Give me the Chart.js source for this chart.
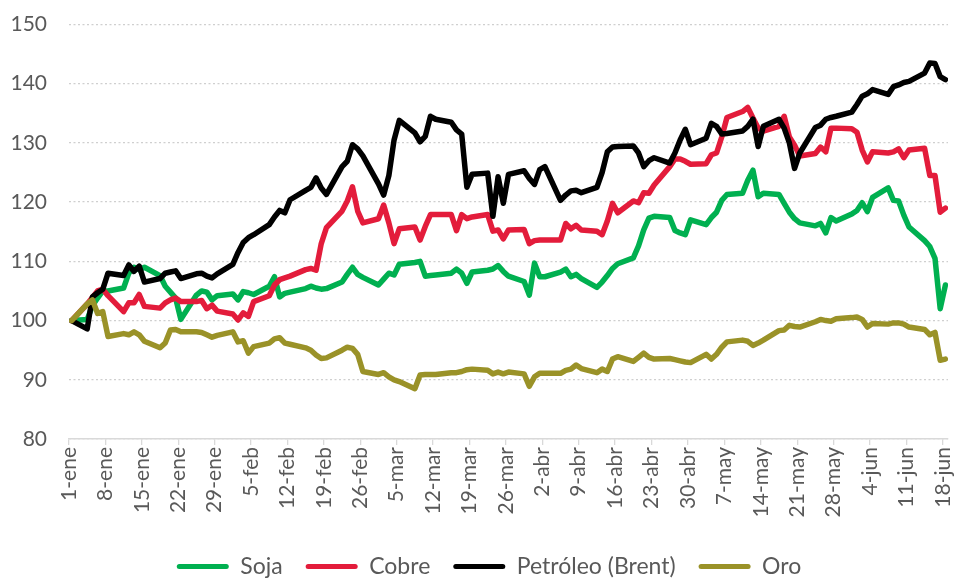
<!DOCTYPE html>
<html>
<head>
<meta charset="utf-8">
<script src="https://cdn.jsdelivr.net/npm/chart.js@4.4.1/dist/chart.umd.min.js"></script>
<style>
  html, body { margin: 0; padding: 0; background: #fff; overflow: hidden; }
  #caja { position: relative; width: 959px; height: 588px; }
</style>
</head>
<body>
<div id="caja"><canvas id="grafico"></canvas></div>
<script>
// dias desde el 1 de enero (dias habiles)
const dias = [
    0,
    3, 4, 5, 6, 7,
    10, 11, 12, 13, 14,
    17, 18, 19, 20, 21,
    24, 25, 26, 27, 28,
    31, 32, 33, 34, 35,
    38, 39, 40, 41, 42,
    45, 46, 47, 48, 49,
    52, 53, 54, 55, 56,
    59, 60, 61, 62, 63,
    66, 67, 68, 69, 70,
    73, 74, 75, 76, 77,
    80, 81, 82, 83, 84,
    87, 88, 89, 90, 91,
    94, 95, 96, 97, 98,
    101, 102, 103, 104, 105,
    108, 109, 110, 111, 112,
    115, 116, 117, 118, 119,
    122, 123, 124, 125, 126,
    129, 130, 131, 132, 133,
    136, 137, 138, 139, 140,
    143, 144, 145, 146, 147,
    150, 151, 152, 153, 154,
    157, 158, 159, 160, 161,
    164, 165, 166, 167, 168
];

const etiquetas = ['1-ene', '8-ene', '15-ene', '22-ene', '29-ene', '5-feb', '12-feb', '19-feb', '26-feb',
    '5-mar', '12-mar', '19-mar', '26-mar', '2-abr', '9-abr', '16-abr', '23-abr', '30-abr',
    '7-may', '14-may', '21-may', '28-may', '4-jun', '11-jun', '18-jun'];

const soja = [
    100,
    100.2, 102.5, 103.8, 105, 105,
    105.5, 108, 109, 108.6, 109,
    107.6, 105.8, 104.8, 103.8, 100.2,
    104.3, 105, 104.8, 103.5, 104.2,
    104.5, 103.5, 104.9, 104.7, 104.4,
    105.8, 107.4, 104, 104.6, 104.8,
    105.4, 105.8, 105.5, 105.3, 105.4,
    106.5, 107.8, 109, 107.8, 107.3,
    106, 107, 108, 107.7, 109.5,
    109.8, 110, 107.5, 107.6, 107.7,
    108, 108.7, 108, 106.3, 108.2,
    108.5, 108.7, 109.3, 108.3, 107.5,
    106.6, 104.3, 109.7, 107.4, 107.4,
    108.2, 108.7, 107.4, 107.8, 107.1,
    105.6, 106.5, 107.6, 108.8, 109.6,
    110.6, 112.6, 115.3, 117.3, 117.6,
    117.4, 115.2, 114.8, 114.5, 117,
    116.2, 117.4, 118.3, 120.3, 121.3,
    121.5, 123.7, 125.4, 120.9, 121.5,
    121.3, 119.8, 118.3, 117.2, 116.5,
    116, 116.4, 114.8, 117.4, 116.8,
    118, 118.6, 119.9, 118.4, 120.8,
    122.4, 120.3, 120.2, 117.8, 115.8,
    113.5, 112.5, 110.5, 102, 106
];

const cobre = [
    100,
    102.8, 103.9, 105, 105.3, 104.2,
    101.5, 103, 103, 104.4, 102.4,
    102.1, 103, 103.5, 103.8, 103.2,
    103.2, 103.4, 102, 102.6, 101.6,
    101.1, 100.1, 101.3, 100.7, 103.2,
    104.2, 106, 106.9, 107.2, 107.5,
    108.6, 108.8, 108.5, 113, 115.7,
    118.5, 120.2, 122.6, 118.5, 116.5,
    117.2, 119.5, 116.5, 113, 115.5,
    115.8, 113.6, 115.9, 117.9, 117.9,
    117.9, 115.2, 117.9, 117.2, 117.5,
    117.9, 115.1, 115.3, 113.8, 115.3,
    115.4, 113, 113.5, 113.6, 113.6,
    113.6, 116.4, 115.5, 116.1, 115.3,
    115.1, 114.5, 116.8, 119.8, 118.2,
    120.2, 119.9, 121.6, 121.5, 122.9,
    126, 127.3, 127.3, 126.9, 126.4,
    126.5, 128, 128.3, 131, 134.3,
    135.3, 136, 134.2, 132.5, 132,
    132.8, 134.5, 131, 129.6, 127.8,
    128.2, 129.3, 128.5, 132.5, 132.5,
    132.4, 131.8, 128.8, 126.8, 128.5,
    128.3, 128.5, 129, 127.5, 128.8,
    129.1, 124.5, 124.5, 118.3, 119
];

const petroleo = [
    100,
    98.6, 104, 104.7, 105.3, 108,
    107.6, 109.4, 108.3, 109.2, 106.5,
    107.1, 108, 108.2, 108.4, 107.1,
    107.9, 108, 107.5, 107.2, 107.9,
    109.5, 111.5, 113.2, 114, 114.5,
    116.2, 117.5, 118.6, 118.2, 120.4,
    122, 122.5, 124.1, 122.4, 121.3,
    126, 126.9, 129.7, 129, 127.8,
    123.1, 121.2, 124.5, 130.5, 133.8,
    131.7, 130.2, 131.1, 134.5, 134,
    133.5, 132.2, 131.5, 122.5, 124.7,
    124.9, 117.6, 124.3, 119.8, 124.7,
    125.3, 124, 123, 125.5, 126,
    120.3, 121.2, 121.9, 122, 121.6,
    122.5, 125, 128.5, 129.3, 129.4,
    129.5, 128.3, 126, 127, 127.5,
    126.6, 128.3, 130.5, 132.3, 129.7,
    130.8, 133.3, 132.8, 131.5, 131.6,
    132, 132.8, 134, 129.4, 132.8,
    134, 132.5, 130, 125.7, 128.3,
    132.6, 133, 134, 134.3, 134.5,
    135.2, 136.5, 137.9, 138.3, 139,
    138.2, 139.5, 139.8, 140.2, 140.4,
    141.8, 143.5, 143.4, 141.2, 140.7
];

const oro = [
    100,
    102.8, 103.5, 101.2, 101.5, 97.3,
    97.8, 97.6, 98.1, 97.6, 96.5,
    95.4, 96.2, 98.4, 98.5, 98.1,
    98.1, 98, 97.6, 97.2, 97.5,
    98.1, 96.4, 96.6, 94.5, 95.6,
    96.2, 96.9, 97.1, 96.2, 96,
    95.4, 95, 94.2, 93.6, 93.7,
    95, 95.5, 95.3, 94.3, 91.4,
    90.9, 91.2, 90.5, 90, 89.7,
    88.5, 90.8, 90.9, 90.9, 90.9,
    91.2, 91.2, 91.4, 91.7, 91.8,
    91.6, 91, 91.3, 91, 91.3,
    91, 88.9, 90.5, 91.1, 91.1,
    91.1, 91.6, 91.8, 92.5, 91.9,
    91.2, 91.8, 91.4, 93.5, 93.9,
    93.1, 93.8, 94.5, 93.8, 93.5,
    93.6, 93.4, 93.2, 93, 92.9,
    94.3, 93.5, 94.3, 95.5, 96.4,
    96.7, 96.5, 95.8, 96.2, 96.7,
    98.3, 98.4, 99.2, 99, 98.9,
    99.8, 100.2, 100, 99.9, 100.3,
    100.5, 100.6, 100.2, 98.9, 99.5,
    99.4, 99.6, 99.6, 99.4, 98.9,
    98.5, 97.6, 98, 93.3, 93.5
];

const series = [
    { nombre: 'Soja', valores: soja, color: '#00B050', orden: 4 },
    { nombre: 'Cobre', valores: cobre, color: '#E31C3B', orden: 3 },
    { nombre: 'Petróleo (Brent)', valores: petroleo, color: '#000000', orden: 2 },
    { nombre: 'Oro', valores: oro, color: '#9A9228', orden: 1 }
];

const gris = '#595959';

// corre la leyenda un poco a la derecha, como en el original
const moverLeyenda = {
    id: 'moverLeyenda',
    afterLayout(chart) {
        chart.legend.left += 15;
        chart.legend.right += 15;
    }
};

new Chart(document.getElementById('grafico'), {
    type: 'line',
    data: {
        datasets: series.map(s => ({
            label: s.nombre,
            data: dias.map((d, i) => ({ x: d, y: s.valores[i] })),
            borderColor: s.color,
            backgroundColor: s.color,
            borderWidth: 5.5,
            borderJoinStyle: 'round',
            borderCapStyle: 'round',
            pointRadius: 0,
            tension: 0,
            order: s.orden
        }))
    },
    options: {
        responsive: true,
        maintainAspectRatio: false,
        animation: false,
        layout: { padding: { top: 24.5, right: 11, left: 0, bottom: 0 } },
        scales: {
            x: {
                type: 'linear',
                min: -0.5,
                max: 168.5,
                afterBuildTicks: (scale) => {
                    scale.ticks = etiquetas.map((_, i) => ({ value: -0.5 + 7 * i }));
                },
                afterFit: (scale) => {
                    scale.height = 93;
                    scale.paddingLeft = 0;
                    scale.paddingRight = 0;
                },
                grid: {
                    drawOnChartArea: false,
                    drawTicks: true,
                    tickLength: 6,
                    color: '#d9d9d9',
                    lineWidth: 1.3
                },
                border: { display: true, color: '#d9d9d9', width: 1.5 },
                ticks: {
                    autoSkip: false,
                    maxRotation: 90,
                    minRotation: 90,
                    padding: 2,
                    color: gris,
                    font: { family: 'Lato', size: 21 },
                    callback: (valor, i) => etiquetas[i]
                }
            },
            y: {
                min: 80,
                max: 150,
                afterFit: (scale) => {
                    scale.width = 69;
                    scale.paddingTop = 0;
                    scale.paddingBottom = 0;
                },
                grid: {
                    drawTicks: false,
                    color: '#cfcfcf',
                    lineWidth: 1.3
                },
                border: { display: false, dash: [2, 2.5] },
                ticks: {
                    stepSize: 10,
                    padding: 22,
                    color: gris,
                    font: { family: 'Lato', size: 21 }
                }
            }
        },
        plugins: {
            tooltip: { enabled: false },
            legend: {
                position: 'bottom',
                labels: {
                    boxWidth: 52,
                    boxHeight: 5,
                    padding: 23,
                    color: gris,
                    useBorderRadius: true,
                    borderRadius: 2.5,
                    font: { family: 'Lato', size: 23 },
                    generateLabels: (chart) => {
                        const items = Chart.defaults.plugins.legend.labels.generateLabels(chart);
                        items.sort((a, b) => a.datasetIndex - b.datasetIndex);
                        items.forEach(it => { it.lineWidth = 0; it.fillStyle = it.strokeStyle; });
                        return items;
                    }
                }
            }
        }
    },
    plugins: [moverLeyenda]
});
</script>
</body>
</html>
